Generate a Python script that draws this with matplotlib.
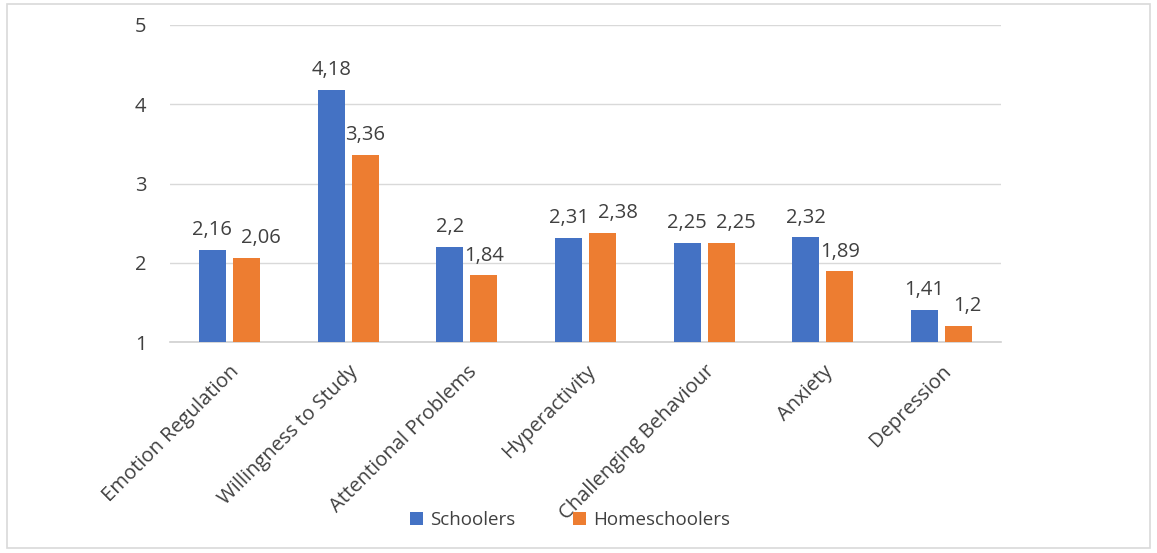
import matplotlib
matplotlib.use("Agg")
import matplotlib.pyplot as plt
from matplotlib.patches import Rectangle
import numpy as np

categories = ["Emotion Regulation", "Willingness to Study", "Attentional Problems",
              "Hyperactivity", "Challenging Behaviour", "Anxiety", "Depression"]
schoolers = [2.16, 4.18, 2.2, 2.31, 2.25, 2.32, 1.41]
homeschoolers = [2.06, 3.36, 1.84, 2.38, 2.25, 1.89, 1.2]
series_names = ["Schoolers", "Homeschoolers"]
yticks = [1, 2, 3, 4, 5]

plt.rcParams['font.family'] = ['Open Sans', 'DejaVu Sans']
txt = '#404040'
blue = '#4472C4'
orange = '#ED7D31'
fs = 14.5
fs_leg = 13.5

fig = plt.figure(figsize=(11.57, 5.53), dpi=100)
W, H = 1157, 553
ax = fig.add_axes([170 / W, 1 - 342 / H, (1001 - 170) / W, (342 - 25) / H])

x = np.arange(len(categories))
w = 0.228
off = 0.143
b1 = ax.bar(x - off, np.array(schoolers) - 1, w, bottom=1, color=blue, label=series_names[0], zorder=3)
b2 = ax.bar(x + off, np.array(homeschoolers) - 1, w, bottom=1, color=orange, label=series_names[1], zorder=3)

def fmt(v):
    return ("%g" % v).replace('.', ',')

labels_s = []
labels_h = []
for xs, vals, store in ((x - off, schoolers, labels_s), (x + off, homeschoolers, labels_h)):
    for xi, v in zip(xs, vals):
        a = ax.annotate(fmt(v), (xi, v), xytext=(0, 7), textcoords='offset points',
                        ha='center', va='bottom', fontsize=fs, color=txt)
        store.append(a)

ax.set_xlim(-0.5, len(categories) - 0.5)
ax.set_ylim(1, 5)
ax.set_yticks(yticks)
ax.set_yticklabels([str(t) for t in yticks], fontsize=fs, color=txt)
ax.set_xticks(x)
ax.set_xticklabels(categories, rotation=45, ha='right', rotation_mode='anchor',
                   fontsize=fs, color=txt)
ax.tick_params(axis='both', length=0)
ax.tick_params(axis='y', pad=17)
ax.tick_params(axis='x', pad=14)
ax.grid(axis='y', color='#d9d9d9', linewidth=1, zorder=0)
for s in ['top', 'right', 'left']:
    ax.spines[s].set_visible(False)
ax.spines['bottom'].set_color('#d0d0d0')
ax.spines['bottom'].set_linewidth(1.2)

# nudge overlapping data labels apart (as the spreadsheet does)
fig.canvas.draw()
r = fig.canvas.get_renderer()
gap_px = 9
for ls, lh in zip(labels_s, labels_h):
    bs = ls.get_window_extent(r)
    bh = lh.get_window_extent(r)
    if bs.x1 + gap_px > bh.x0 and bs.y0 < bh.y1 and bh.y0 < bs.y1:
        shift_px = bs.x1 + gap_px - bh.x0
        lh.xyann = (shift_px * 72 / fig.dpi, 7)

leg = fig.legend(handles=[b1, b2], loc='center left', bbox_to_anchor=(410 / W, 1 - 520 / H),
                 ncol=2, frameon=False, fontsize=fs_leg, handlelength=0.69, handleheight=0.69,
                 columnspacing=3.1, handletextpad=0.38, borderpad=0, borderaxespad=0)
for t in leg.get_texts():
    t.set_color(txt)

fig.patches.append(Rectangle((7 / W, 1 - 548 / H), (1150 - 7) / W, (548 - 4) / H,
                             transform=fig.transFigure, fill=False, edgecolor='#d9d9d9',
                             linewidth=1.2))

fig.savefig("out.png", dpi=100, facecolor='white')
